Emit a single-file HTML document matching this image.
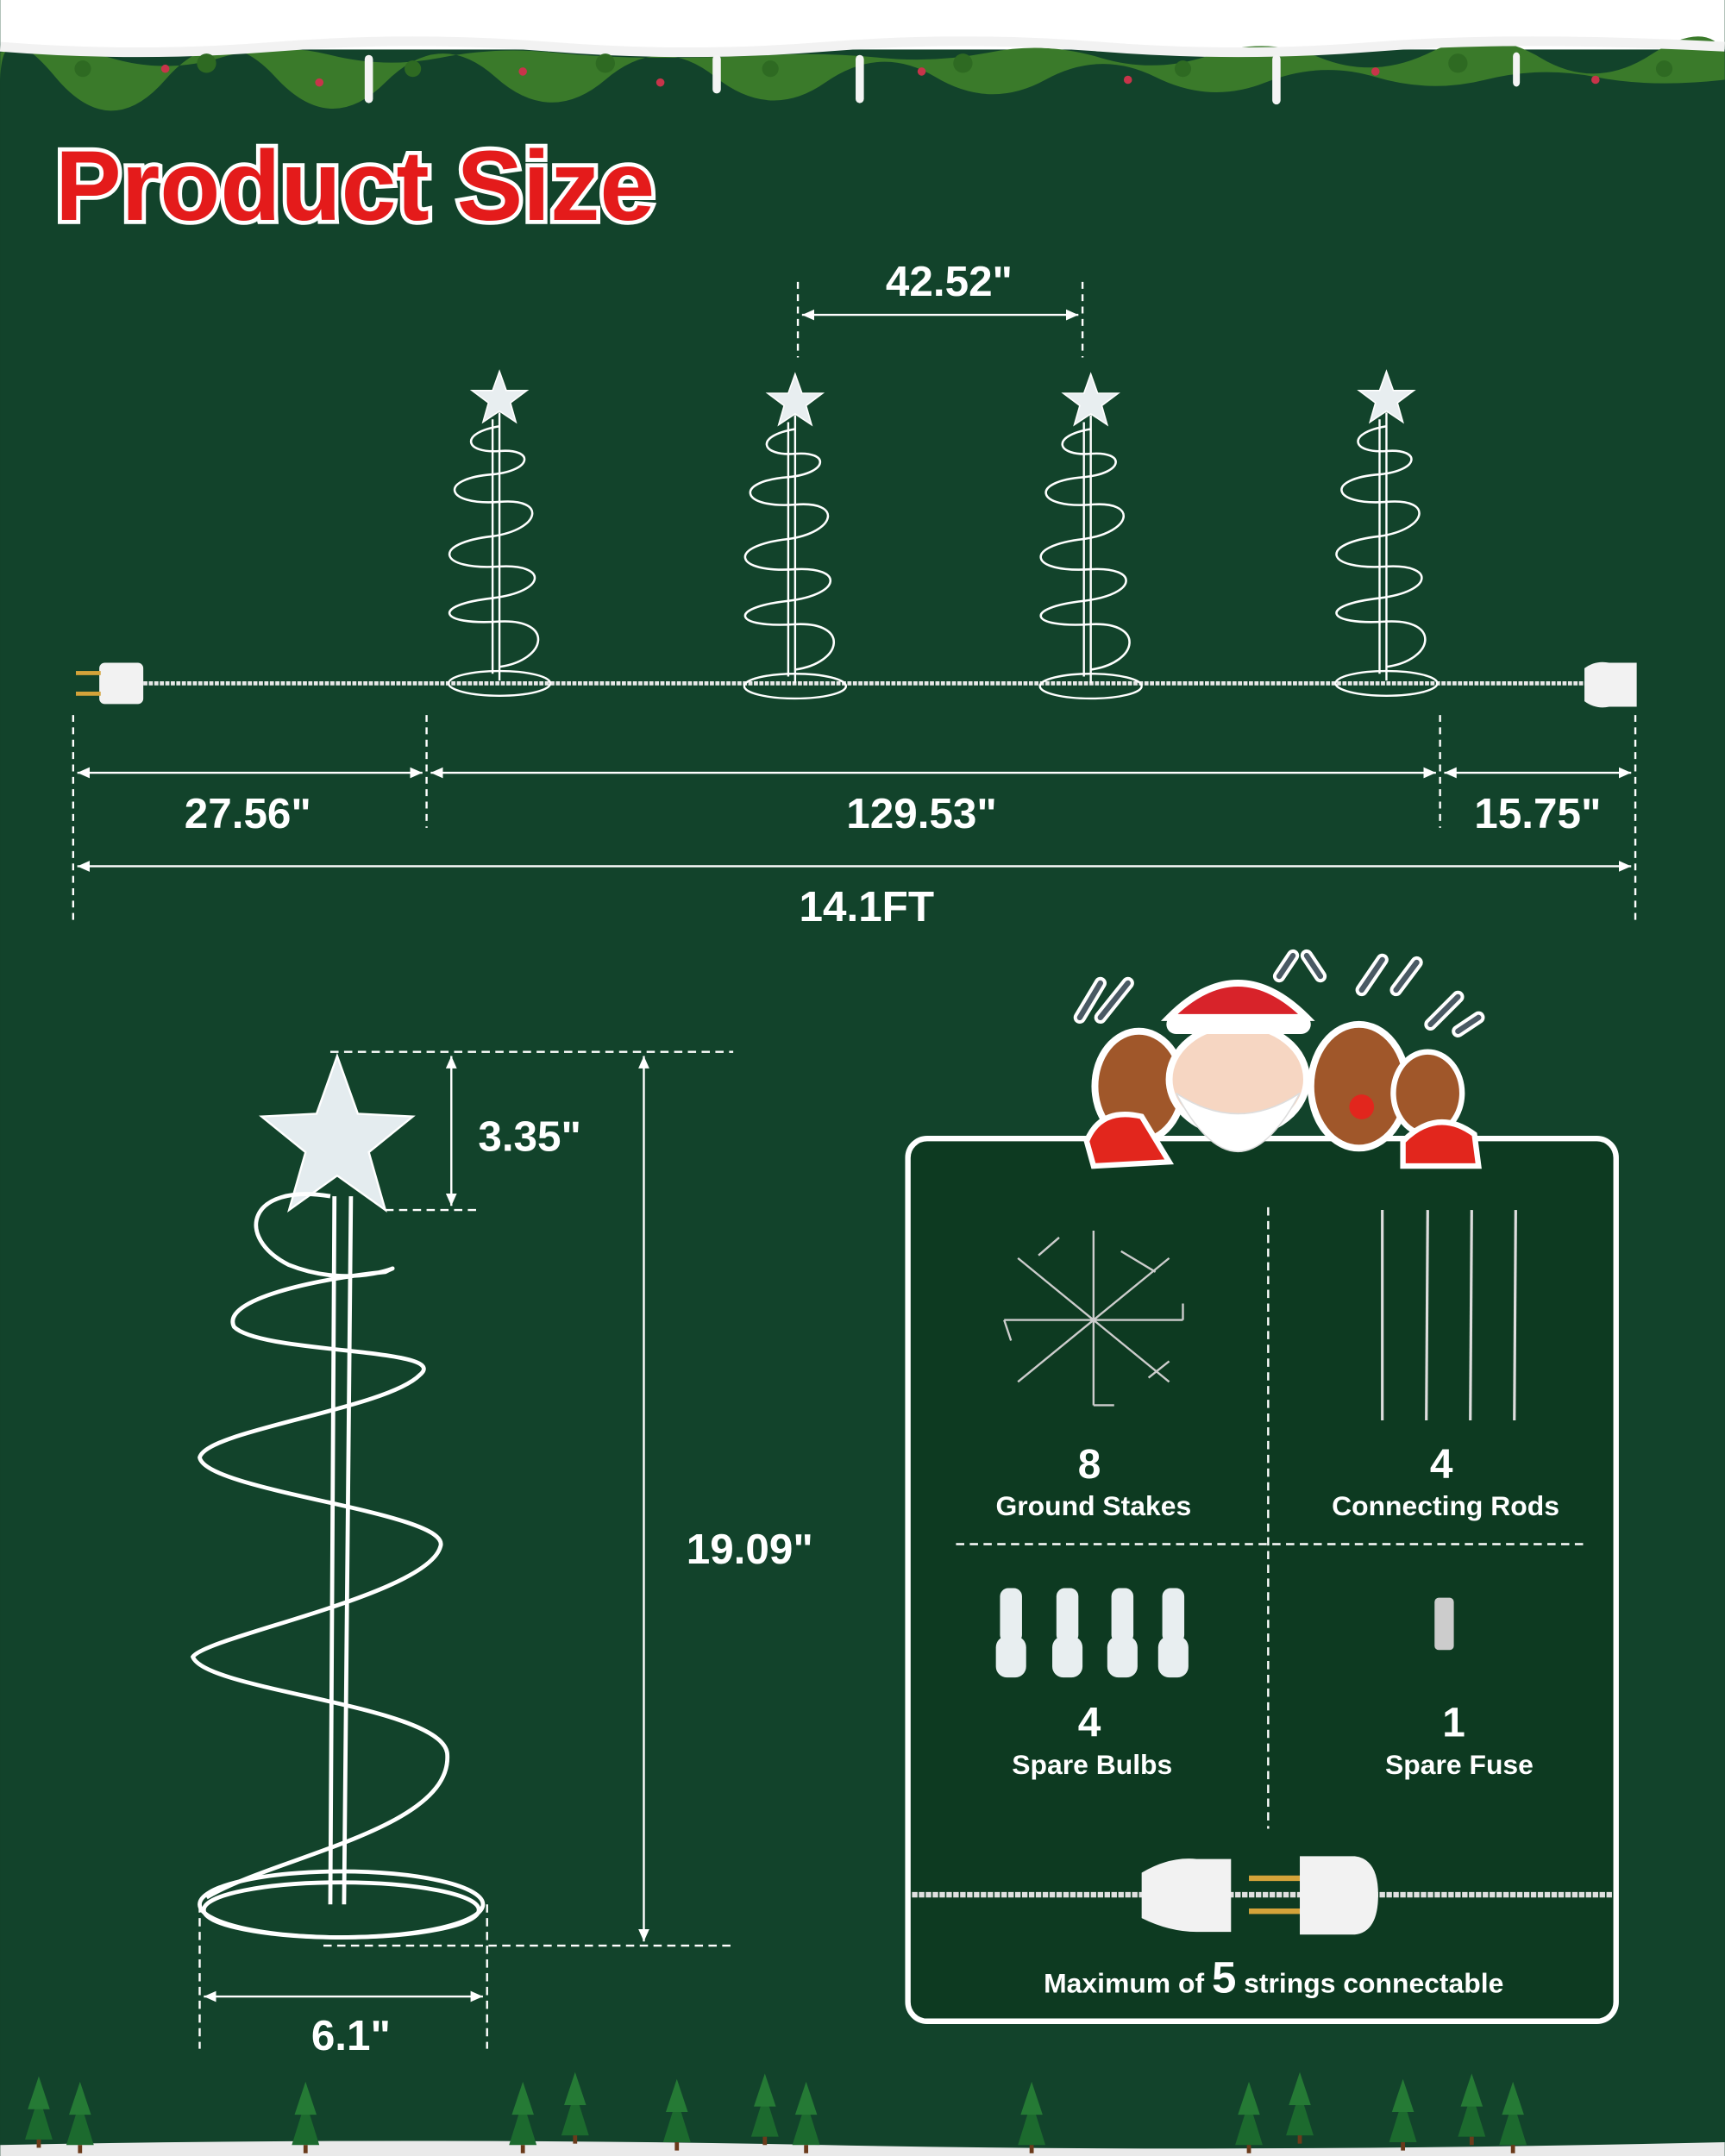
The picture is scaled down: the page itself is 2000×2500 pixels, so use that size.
<!DOCTYPE html>
<html><head><meta charset="utf-8"><style>
html,body{margin:0;padding:0;width:2000px;height:2500px;overflow:hidden;background:#12432b}
svg{display:block}
text{font-family:"Liberation Sans",sans-serif;font-weight:bold;fill:#fff}
</style></head><body>
<svg width="2000" height="2500" viewBox="0 0 1254 1568" xmlns="http://www.w3.org/2000/svg">
<defs>
<marker id="a" markerWidth="10" markerHeight="10" refX="9" refY="5" orient="auto-start-reverse" markerUnits="userSpaceOnUse"><path d="M0,1 L9,5 L0,9 Z" fill="#fff"/></marker>
<g id="tree">
<polygon points="0,-20 5,-6 20,-6 8,3 12,17 0,9 -12,17 -8,3 -20,-6 -5,-6" fill="#e8eef0" stroke="#fff" stroke-width="1"/>
<path d="M0,10 L0,205 M-5,15 L-5,200" stroke="#fff" stroke-width="1.5" fill="none"/>
<path d="M0,20 C-30,25 -25,40 0,38 C25,36 25,52 -5,55 C-45,58 -40,78 0,75 C35,72 30,95 -5,100 C-50,105 -45,125 0,122 C35,120 35,140 -5,145 C-50,150 -45,165 0,162 C40,160 35,190 0,195" stroke="#fff" stroke-width="1.6" fill="none"/>
<ellipse cx="0" cy="207" rx="37" ry="9" stroke="#fff" stroke-width="1.5" fill="none"/>
</g>
<g id="st"><polygon points="0,-22 10,10 -10,10" fill="#1c6a2e"/><polygon points="0,-36 8,-12 -8,-12" fill="#257a35"/><rect x="-1.5" y="10" width="3" height="6" fill="#6b3b1b"/></g>
</defs>
<rect width="1254" height="1568" fill="#12432b"/>
<!-- top garland -->
<rect width="1254" height="36" fill="#fff"/>
<path d="M0,38 Q40,30 80,42 T160,42 T240,40 T320,42 T400,38 T480,42 T560,40 T640,42 T720,38 T800,42 T880,40 T960,42 T1040,38 T1120,42 T1200,40 T1254,38 L1254,58 Q1200,64 1160,56 T1080,58 T1000,56 T920,60 T840,56 T760,58 T680,56 T600,60 T520,56 T440,58 T360,56 T280,60 T200,56 T120,58 T40,56 T0,60 Z" fill="#3a7a2a"/>
<path d="M0,34 Q100,42 200,34 T400,34 T600,34 T800,34 T1000,34 T1254,34" stroke="#f2f2f2" stroke-width="7" fill="none"/>
<g fill="#2e6a22"><circle cx="60" cy="50" r="6"/><circle cx="150" cy="46" r="7"/><circle cx="300" cy="50" r="6"/><circle cx="440" cy="46" r="7"/><circle cx="560" cy="50" r="6"/><circle cx="700" cy="46" r="7"/><circle cx="860" cy="50" r="6"/><circle cx="1060" cy="46" r="7"/><circle cx="1210" cy="50" r="6"/></g>
<g fill="#f4f4f4"><rect x="265" y="40" width="6" height="35" rx="3"/><rect x="518" y="40" width="6" height="28" rx="3"/><rect x="622" y="40" width="6" height="35" rx="3"/><rect x="925" y="40" width="6" height="36" rx="3"/><rect x="1100" y="38" width="5" height="25" rx="3"/></g>
<g fill="#c8344a"><circle cx="120" cy="50" r="3"/><circle cx="232" cy="60" r="3"/><circle cx="380" cy="52" r="3"/><circle cx="480" cy="60" r="3"/><circle cx="670" cy="52" r="3"/><circle cx="820" cy="58" r="3"/><circle cx="1000" cy="52" r="3"/><circle cx="1160" cy="58" r="3"/></g>
<!-- title -->
<text x="40" y="160" font-size="72" stroke="#fff" stroke-width="6" paint-order="stroke" style="fill:#e41b1b">Product Size</text>
<!-- top dims -->
<g stroke="#fff" stroke-width="1.5" fill="none">
<path d="M580,205 V260 M787,205 V260 M53,520 V670 M310,520 V602 M1047,520 V602 M1189,520 V670" stroke-dasharray="5,4"/>
<line x1="583" y1="229" x2="784" y2="229" marker-start="url(#a)" marker-end="url(#a)"/>
<line x1="56" y1="562" x2="307" y2="562" marker-start="url(#a)" marker-end="url(#a)"/>
<line x1="313" y1="562" x2="1044" y2="562" marker-start="url(#a)" marker-end="url(#a)"/>
<line x1="1050" y1="562" x2="1186" y2="562" marker-start="url(#a)" marker-end="url(#a)"/>
<line x1="56" y1="630" x2="1186" y2="630" marker-start="url(#a)" marker-end="url(#a)"/>
</g>
<text x="690" y="215" font-size="31" text-anchor="middle">42.52"</text>
<text x="180" y="602" font-size="31" text-anchor="middle">27.56"</text>
<text x="670" y="602" font-size="31" text-anchor="middle">129.53"</text>
<text x="1118" y="602" font-size="31" text-anchor="middle">15.75"</text>
<text x="630" y="670" font-size="31" text-anchor="middle">14.1FT</text>
<!-- cable -->
<line x1="100" y1="497" x2="1155" y2="497" stroke="#e8e8e8" stroke-width="3" stroke-dasharray="3,1"/>
<rect x="72" y="482" width="32" height="30" rx="4" fill="#f2f2f2"/>
<rect x="55" y="488" width="18" height="3" fill="#d4a33a"/><rect x="55" y="503" width="18" height="3" fill="#d4a33a"/>
<path d="M1152,486 Q1160,480 1170,482 L1190,482 L1190,514 L1170,514 Q1160,516 1152,510 Z" fill="#f2f2f2"/>
<use href="#tree" x="363" y="290"/>
<use href="#tree" x="578" y="292"/>
<use href="#tree" x="793" y="292"/>
<use href="#tree" x="1008" y="290"/>
<!-- big tree -->
<polygon points="245,768 260,810 300,812 268,838 280,880 245,855 210,880 222,838 190,812 230,810" fill="#e4ecef" stroke="#fff" stroke-width="1.5"/>
<g stroke="#fff" stroke-width="3" fill="none">
<path d="M255,870 L250,1385 M243,870 L240,1385"/>
<path d="M240,870 C180,860 170,900 210,920 C260,940 300,915 280,925 C230,930 160,945 170,965 C190,985 330,980 305,1000 C280,1025 150,1040 145,1060 C150,1085 330,1100 320,1125 C310,1160 150,1190 140,1205 C150,1230 320,1240 325,1275 C330,1330 200,1350 150,1380"/>
<ellipse cx="248" cy="1385" rx="103" ry="24"/>
<ellipse cx="248" cy="1389" rx="100" ry="20"/>
</g>
<!-- big tree dims -->
<g stroke="#fff" stroke-width="1.5" fill="none">
<path d="M240,765 H533 M280,880 H350 M235,1415 H533 M145,1385 V1490 M354,1385 V1490" stroke-dasharray="6,4"/>
<line x1="328" y1="768" x2="328" y2="877" marker-start="url(#a)" marker-end="url(#a)"/>
<line x1="468" y1="768" x2="468" y2="1412" marker-start="url(#a)" marker-end="url(#a)"/>
<line x1="148" y1="1452" x2="351" y2="1452" marker-start="url(#a)" marker-end="url(#a)"/>
</g>
<text x="385" y="837" font-size="31" text-anchor="middle">3.35"</text>
<text x="545" y="1137" font-size="31" text-anchor="middle">19.09"</text>
<text x="255" y="1491" font-size="31" text-anchor="middle">6.1"</text>
<!-- box -->
<rect x="660" y="828" width="515" height="642" rx="14" fill="#0d3a21" stroke="#fff" stroke-width="4"/>
<g stroke="#fff" stroke-width="1.5" fill="none" stroke-dasharray="6,4">
<path d="M922,878 V1330 M695,1123 H1155"/>
</g>
<g stroke="#ccc" stroke-width="1.5" fill="none">
<path d="M740,915 L850,1005 M850,915 L740,1005 M795,895 V1022 M730,960 H860 M755,913 L770,900 M815,910 L840,925 M860,948 V960 M835,1002 L850,990 M795,1022 H810 M735,975 L730,960"/>
</g>
<g stroke="#ddd" stroke-width="2"><line x1="1005" y1="880" x2="1005" y2="1033"/><line x1="1038" y1="880" x2="1037" y2="1033"/><line x1="1070" y1="880" x2="1069" y2="1033"/><line x1="1102" y1="880" x2="1101" y2="1033"/></g>
<text x="792" y="1075" font-size="30" text-anchor="middle">8</text>
<text x="795" y="1102" font-size="20" text-anchor="middle">Ground Stakes</text>
<text x="1048" y="1075" font-size="30" text-anchor="middle">4</text>
<text x="1051" y="1102" font-size="20" text-anchor="middle">Connecting Rods</text>
<g fill="#e8eef0"><rect x="727" y="1155" width="16" height="40" rx="6"/><rect x="768" y="1155" width="16" height="40" rx="6"/><rect x="808" y="1155" width="16" height="40" rx="6"/><rect x="845" y="1155" width="16" height="40" rx="6"/>
<rect x="724" y="1190" width="22" height="30" rx="8"/><rect x="765" y="1190" width="22" height="30" rx="8"/><rect x="805" y="1190" width="22" height="30" rx="8"/><rect x="842" y="1190" width="22" height="30" rx="8"/>
<rect x="1043" y="1162" width="14" height="38" rx="3" fill="#ccc"/></g>
<text x="792" y="1263" font-size="30" text-anchor="middle">4</text>
<text x="794" y="1290" font-size="20" text-anchor="middle">Spare Bulbs</text>
<text x="1057" y="1263" font-size="30" text-anchor="middle">1</text>
<text x="1061" y="1290" font-size="20" text-anchor="middle">Spare Fuse</text>
<line x1="663" y1="1378" x2="1172" y2="1378" stroke="#e0e0e0" stroke-width="4" stroke-dasharray="4,1"/>
<path d="M830,1362 Q850,1350 870,1352 L895,1352 L895,1405 L870,1405 Q850,1405 830,1395 Z" fill="#f2f2f2"/>
<rect x="908" y="1364" width="38" height="4" fill="#d4a33a"/><rect x="908" y="1388" width="38" height="4" fill="#d4a33a"/>
<path d="M945,1350 L985,1350 Q1002,1352 1002,1378 Q1002,1405 985,1407 L945,1407 Z" fill="#f2f2f2"/>
<text x="926" y="1449" font-size="20" text-anchor="middle">Maximum of <tspan font-size="32">5</tspan> strings connectable</text>
<!-- santa & reindeer -->
<g>
<path d="M785,740 L800,715 M800,740 L820,715 M930,710 L940,695 M960,710 L950,695 M990,720 L1005,698 M1015,720 L1030,700 M1040,745 L1060,725 M1060,750 L1075,740" stroke="#fff" stroke-width="9" stroke-linecap="round"/>
<path d="M785,740 L800,715 M800,740 L820,715 M930,710 L940,695 M960,710 L950,695 M990,720 L1005,698 M1015,720 L1030,700 M1040,745 L1060,725 M1060,750 L1075,740" stroke="#4a5a64" stroke-width="4" stroke-linecap="round"/>
<ellipse cx="828" cy="790" rx="32" ry="40" fill="#a0572a" stroke="#fff" stroke-width="5"/>
<ellipse cx="988" cy="790" rx="35" ry="45" fill="#a0572a" stroke="#fff" stroke-width="5"/>
<ellipse cx="1038" cy="795" rx="25" ry="30" fill="#a0572a" stroke="#fff" stroke-width="4"/>
<circle cx="990" cy="805" r="9" fill="#e2261d"/>
<path d="M850,740 Q900,690 950,740 Z" fill="#d8232a" stroke="#fff" stroke-width="5"/>
<ellipse cx="900" cy="785" rx="50" ry="40" fill="#f6d6c2" stroke="#fff" stroke-width="5"/>
<path d="M855,795 Q900,880 945,795 Q900,825 855,795 Z" fill="#fff" stroke="#ddd"/>
<rect x="848" y="738" width="105" height="14" rx="7" fill="#fff"/>
<path d="M790,830 Q800,805 830,812 L850,845 L795,848 Z" fill="#e2261d" stroke="#fff" stroke-width="4"/>
<path d="M1020,830 Q1045,805 1072,825 L1075,848 L1020,848 Z" fill="#e2261d" stroke="#fff" stroke-width="4"/>
</g>
<!-- bottom -->
<path d="M0,1560 Q300,1554 600,1560 T1254,1558 L1254,1568 L0,1568 Z" fill="#eaeaea"/>
<use href="#st" x="28" y="1546"/><use href="#st" x="58" y="1550"/><use href="#st" x="222" y="1550"/>
<use href="#st" x="380" y="1550"/><use href="#st" x="418" y="1543"/><use href="#st" x="492" y="1548"/>
<use href="#st" x="556" y="1544"/><use href="#st" x="586" y="1550"/><use href="#st" x="750" y="1550"/>
<use href="#st" x="908" y="1550"/><use href="#st" x="945" y="1543"/><use href="#st" x="1020" y="1548"/>
<use href="#st" x="1070" y="1544"/><use href="#st" x="1100" y="1550"/>
</svg>
</body></html>
